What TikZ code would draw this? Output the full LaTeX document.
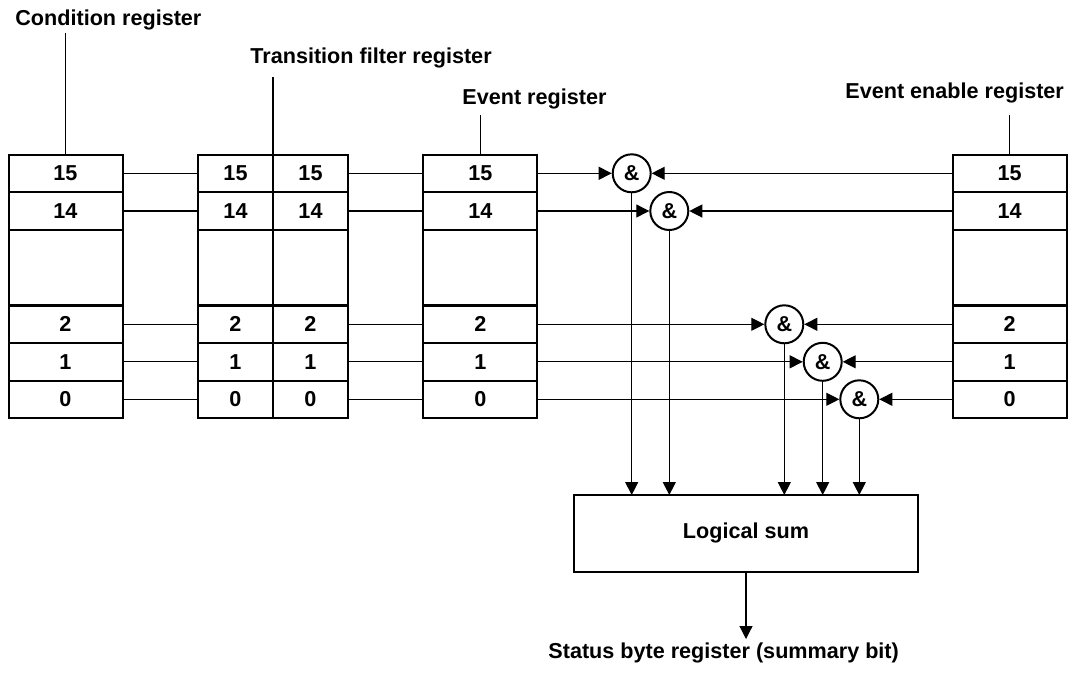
\documentclass[tikz,border=0pt]{standalone}
\usepackage{fontspec}
\setmainfont{Liberation Sans}
\usetikzlibrary{arrows.meta,positioning}

\begin{document}
\begin{tikzpicture}[x=0.5pt, y=-0.5pt, font=\fontsize{10.8}{13}\selectfont\bfseries,
    reg/.style={draw, line width=1pt, minimum width=57pt, minimum height=18.8pt, inner sep=0pt, outer sep=0pt},
    half/.style={reg, minimum width=37.5pt},
    gate/.style={draw, circle, line width=1pt, minimum size=19pt, inner sep=0pt},
    link/.style={line width=0.6pt},
    arr/.style={link, -{Triangle[length=6.5pt,width=6.5pt]}},
    title/.style={anchor=base west, inner sep=0pt}]
    \useasboundingbox (0,0) rectangle (1076,676);

    % register cells, one row per bit
    \foreach \b/\y in {15/173.3, 14/211, 2/324.3, 1/361.8, 0/399.3}{
        \node[reg] (c\b) at (65.5,\y) {\b};
        \node[half] (ta\b) at (235.5,\y) {\b};
        \node[half] (tb\b) at (310.5,\y) {\b};
        \node[reg] (e\b) at (480.3,\y) {\b};
        \node[reg] (m\b) at (1009.7,\y) {\b};
        \draw[link] (c\b) -- (ta\b);
        \draw[link] (tb\b) -- (e\b);
    }
    \foreach \n/\x/\s in {c/65.5/reg, ta/235.5/half, tb/310.5/half, e/480.3/reg, m/1009.7/reg}
        \node[\s, minimum height=37.6pt] (\n gap) at (\x,267.7) {};

    % logical sum and output
    \node[reg, minimum width=171.7pt, minimum height=38.3pt] (sum) at (746,533.3) {Logical sum};
    \coordinate (out) at (746,639);
    \draw[arr] (sum) -- (out);
    \node[title] (sbr) at (548,658) {Status byte register (summary bit)};

    % and gates
    \foreach \b/\x/\y in {15/631.7/173.3, 14/669.3/211, 2/784.3/324.3, 1/822.7/361.8, 0/859.3/399.3}{
        \node[gate] (g\b) at (\x,\y) {\&};
        \draw[arr] (e\b) -- (g\b);
        \draw[arr] (m\b) -- (g\b);
        \draw[arr] (g\b) -- (g\b |- sum.north);
    }

    % register titles
    \node[title] (ct) at (15,25) {Condition register};
    \node[title] (tt) at (250,63) {Transition filter register};
    \node[title] (et) at (462,104) {Event register};
    \node[title] (mt) at (845,98) {Event enable register};
    \coordinate (cl) at (65.5,33);
    \coordinate (tl) at (273,77);
    \coordinate (el) at (480.3,115);
    \coordinate (ml) at (1009.7,115);
    \draw[link] (cl) -- (c15.north);
    \draw[link] (tl) -- (ta15.north east);
    \draw[link] (el) -- (e15.north);
    \draw[link] (ml) -- (m15.north);
\end{tikzpicture}
\end{document}
